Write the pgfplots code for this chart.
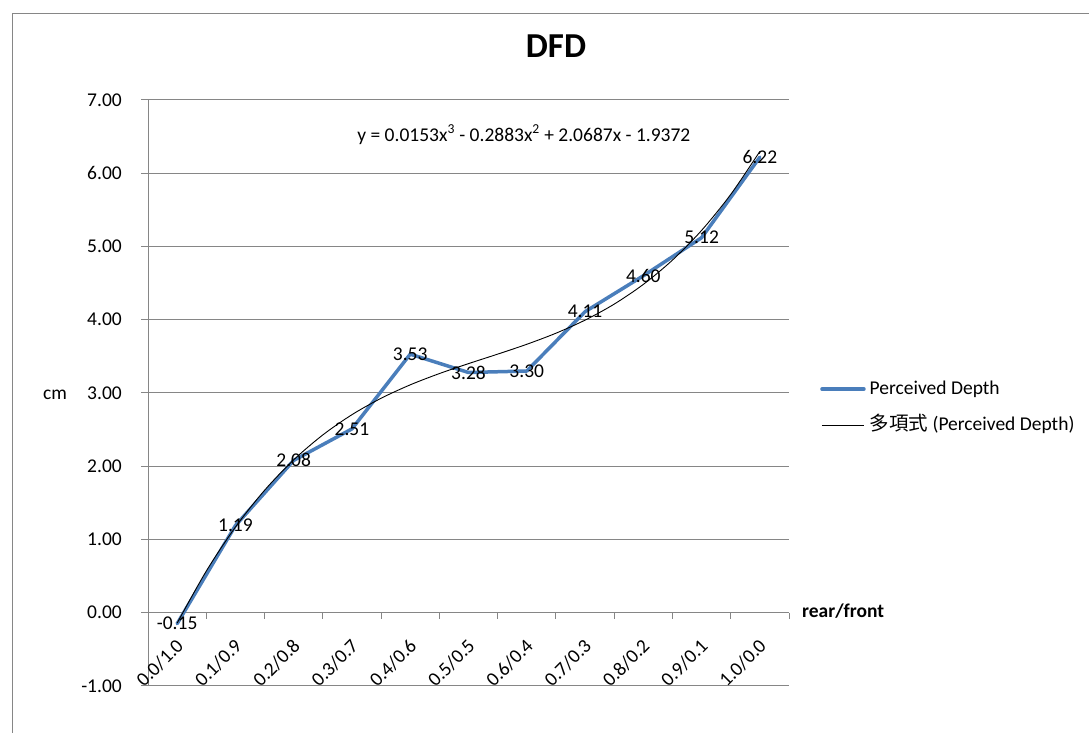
\documentclass[border=0pt]{standalone}
\usepackage{pgfplots}
\pgfplotsset{compat=1.18}
\usepackage{fontspec}
\setmainfont{Carlito}
\newfontfamily\cjk{Noto Sans CJK TC}
\definecolor{seriesblue}{RGB}{74,126,187}
\definecolor{axisgray}{RGB}{134,134,134}
\newcommand\fs{\fontsize{19.5}{23.4}\selectfont}

% perceived depth per rear/front ratio (category index 0..10)
\pgfplotstableread{
x   depth
0   -0.15
1   1.19
2   2.08
3   2.51
4   3.53
5   3.28
6   3.30
7   4.11
8   4.60
9   5.12
10  6.22
}\depthdata

% cubic trend: y = 0.0153t^3 - 0.2883t^2 + 2.0687t - 1.9372, t = x+1
\pgfplotstableread{
x     trend
0.0   -0.1415
0.5   0.5688
1.0   1.1694
1.5   1.6717
2.0   2.0873
2.5   2.4276
3.0   2.7040
3.5   2.9281
4.0   3.1113
4.5   3.2651
5.0   3.4010
5.5   3.5304
6.0   3.6649
6.5   3.8159
7.0   3.9948
7.5   4.2132
8.0   4.4825
8.5   4.8142
9.0   5.2198
9.5   5.7107
10.0  6.2985
}\trenddata

\begin{document}
\begin{tikzpicture}
\useasboundingbox (0,0) rectangle (1089pt,733pt);
% chart area frame
\draw[axisgray, line width=1.5pt] (12.5pt,-2pt) -- (12.5pt,719.5pt) -- (1092pt,719.5pt);
\begin{axis}[
  at={(148pt,47pt)}, anchor=south west,
  scale only axis, width=641pt, height=586pt,
  xmin=-0.5, xmax=10.5, ymin=-1, ymax=7,
  axis x line*=middle, axis y line*=left,
  axis line style={axisgray, line width=1pt, -},
  hide obscured x ticks=false, hide obscured y ticks=false,
  tick align=outside,
  major tick length=7pt, minor tick length=6pt,
  tick style={axisgray, line width=1pt},
  ytick={-1,0,...,7},
  ymajorgrids, grid style={axisgray, line width=1pt},
  xtick={0,...,10},
  xticklabels={0.0/1.0,0.1/0.9,0.2/0.8,0.3/0.7,0.4/0.6,0.5/0.5,0.6/0.4,0.7/0.3,0.8/0.2,0.9/0.1,1.0/0.0},
  major x tick style={draw=none},
  minor xtick={-0.5,0.5,...,10.5},
  xticklabel style={font=\fs, xshift=3pt, yshift=-23pt, rotate=45, anchor=east, inner sep=0pt},
  yticklabel style={font=\fs, inner sep=0pt, xshift=-19pt, anchor=east,
    /pgf/number format/.cd, fixed, fixed zerofill, precision=2, assume math mode=true},
  ylabel={cm},
  ylabel style={font=\fs, rotate=-90, at={(axis description cs:0,0.4966)}, anchor=center, xshift=-93pt},
  xlabel={rear/front},
  xlabel style={font=\fs\bfseries, at={(axis description cs:1,0.125)}, anchor=west, inner sep=0pt, xshift=13pt, yshift=2pt},
  title={DFD},
  title style={font=\fontsize{35}{42}\selectfont\bfseries, at={(axis description cs:0.6365,1)}, anchor=center, yshift=48pt},
  legend style={draw=none, fill=none, font=\fs, at={(axis description cs:1.0484,0.476)}, anchor=west,
    inner sep=0pt, nodes={inner sep=0pt, text height=14pt, text depth=4pt}, column sep=4pt, row sep=18pt},
  legend cell align=left,
  legend image code/.code={\draw (0pt,0pt) -- (42pt,0pt);},
]
\addplot[seriesblue, line width=3.5pt, line join=round, line cap=round,
  nodes near coords={\pgfmathprintnumber[fixed,fixed zerofill,precision=2,assume math mode=true]{\pgfplotspointmeta}},
  every node near coord/.append style={font=\fs, text=black, anchor=center, inner sep=0pt}]
  table[x=x, y=depth] {\depthdata};
\addlegendentry{Perceived Depth}
\addplot[black, line width=0.9pt, smooth] table[x=x, y=trend] {\trenddata};
\addlegendentry{{\cjk 多項式} (Perceived Depth)}
\node[font=\fs, anchor=center] at (axis cs:5.95,6.526)
  {y = 0.0153x\textsuperscript{3} - 0.2883x\textsuperscript{2} + 2.0687x - 1.9372};
\end{axis}
\end{tikzpicture}
\end{document}
